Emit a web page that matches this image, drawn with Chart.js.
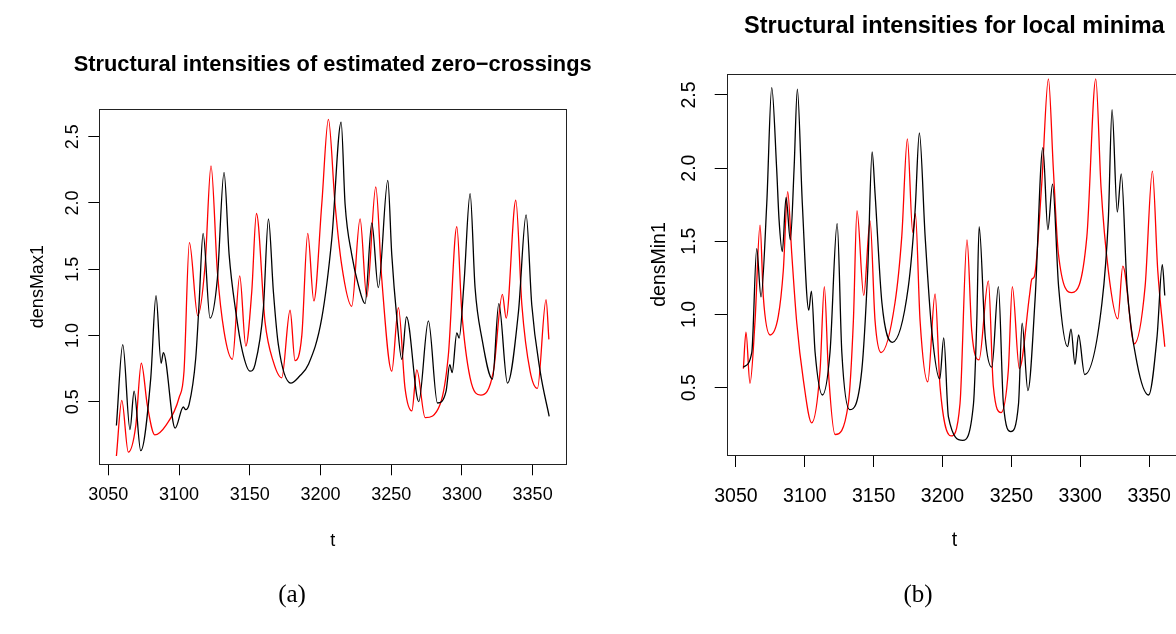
<!DOCTYPE html>
<html>
<head>
<meta charset="utf-8">
<script src="https://cdn.jsdelivr.net/npm/chart.js@4.4.0/dist/chart.umd.min.js"></script>
<style>
  html, body { margin: 0; padding: 0; background: #fff; overflow: hidden; width: 1176px; height: 634px; }
  canvas { position: absolute; top: 0; }
  #chartMax { left: 0; }
  #chartMin { left: 600px; }
  .caption { position: absolute; top: 579px; width: 80px; line-height: 30px; text-align: center;
             font-family: "Liberation Serif", serif; font-size: 25px; color: #000; }
</style>
</head>
<body>
<canvas id="chartMax" width="600" height="634"></canvas>
<canvas id="chartMin" width="600" height="634"></canvas>
<div class="caption" style="left:252px">(a)</div>
<div class="caption" style="left:878px">(b)</div>
<script>
document.addEventListener('DOMContentLoaded', function() {

const xTicks = [3050, 3100, 3150, 3200, 3250, 3300, 3350];
const yTicks = [0.5, 1.0, 1.5, 2.0, 2.5];

// densMax1, black curve
const tMaxBlack = [3055.7, 3060.2, 3065.3, 3068.2, 3072.9, 3080.0, 3083.7, 3087.3, 3088.9, 3097.2,
  3103.0, 3104.7, 3107.1, 3111.8, 3114.1, 3117.0, 3121.9, 3127.1, 3131.8, 3135.4,
  3140.1, 3144.8, 3150.2, 3153.7, 3159.6, 3163.2, 3166.7, 3170.2, 3179.0, 3185.0,
  3191.4, 3200.9, 3208.0, 3214.6, 3217.4, 3222.1, 3226.8, 3231.5, 3236.3, 3240.9,
  3247.6, 3250.4, 3254.0, 3257.5, 3260.8, 3269.5, 3276.3, 3282.7, 3288.8, 3291.4,
  3293.1, 3296.4, 3298.0, 3301.5, 3305.8, 3309.3, 3314.1, 3321.6, 3326.1, 3332.2,
  3340.0, 3345.4, 3349.4, 3355.3, 3361.7];
const densMaxBlack = [0.32, 0.93, 0.29, 0.58, 0.13, 0.68, 1.30, 0.79, 0.87, 0.30,
  0.46, 0.44, 0.48, 0.83, 1.23, 1.77, 1.13, 1.43, 2.23, 1.61,
  1.18, 0.88, 0.73, 0.78, 1.20, 1.88, 1.33, 0.93, 0.64, 0.69,
  0.78, 1.13, 1.73, 2.61, 1.99, 1.61, 1.38, 1.24, 1.85, 1.36,
  2.17, 1.61, 1.13, 0.82, 1.14, 0.50, 1.11, 0.49, 0.58, 0.78,
  0.72, 1.02, 0.98, 1.40, 2.07, 1.36, 0.98, 0.67, 1.24, 0.64,
  1.18, 1.91, 1.23, 0.73, 0.39];

// densMax1, red curve
const tMaxRed = [3055.7, 3059.5, 3064.1, 3069.4, 3073.3, 3077.6, 3082.8, 3090.6, 3100.0, 3103.5,
  3107.3, 3113.2, 3118.4, 3122.6, 3127.1, 3131.8, 3137.7, 3142.9, 3147.2, 3151.4,
  3154.7, 3160.8, 3166.7, 3172.6, 3178.5, 3182.0, 3186.8, 3191.0, 3195.3, 3200.9,
  3205.6, 3210.3, 3215.0, 3222.1, 3228.0, 3232.7, 3239.1, 3243.3, 3250.4, 3255.1,
  3259.8, 3264.6, 3268.1, 3274.0, 3284.6, 3290.4, 3296.4, 3299.9, 3305.8, 3313.4,
  3322.3, 3328.6, 3331.3, 3338.1, 3342.4, 3348.2, 3353.4, 3359.5, 3361.5];
const densMaxRed = [0.09, 0.51, 0.12, 0.32, 0.79, 0.47, 0.25, 0.32, 0.53, 0.73,
  1.70, 1.15, 1.53, 2.28, 1.48, 1.03, 0.82, 1.45, 0.92, 1.33,
  1.92, 1.10, 0.80, 0.68, 1.19, 0.81, 1.00, 1.77, 1.26, 1.99,
  2.63, 1.99, 1.53, 1.22, 1.88, 1.29, 2.12, 1.43, 0.73, 1.21,
  0.60, 0.43, 0.74, 0.38, 0.48, 0.85, 1.82, 1.18, 0.68, 0.55,
  0.73, 1.31, 1.13, 2.02, 1.23, 0.73, 0.60, 1.27, 0.97];

// densMin1, black curve
const tMinBlack = [3055.4, 3061.5, 3065.1, 3068.2, 3072.4, 3076.0, 3079.6, 3081.3, 3083.7, 3086.4,
  3089.5, 3092.2, 3094.6, 3098.2, 3102.9, 3104.8, 3107.5, 3112.8, 3118.3, 3123.5,
  3126.9, 3132.5, 3141.4, 3145.7, 3148.9, 3151.0, 3156.0, 3163.6, 3175.2, 3180.1,
  3183.2, 3187.4, 3192.2, 3198.0, 3200.9, 3204.3, 3214.7, 3222.5, 3224.9, 3226.6,
  3231.0, 3235.8, 3240.6, 3244.2, 3249.6, 3255.2, 3257.8, 3262.0, 3267.2, 3272.9,
  3276.5, 3279.9, 3284.3, 3290.8, 3293.3, 3296.2, 3298.8, 3303.2, 3315.8, 3320.4,
  3323.1, 3326.9, 3329.8, 3334.0, 3341.2, 3349.7, 3355.8, 3359.6, 3361.4];
const densMinBlack = [0.64, 0.74, 1.45, 1.12, 1.76, 2.55, 1.99, 1.65, 1.43, 1.80,
  1.51, 1.99, 2.54, 1.76, 1.03, 1.16, 0.74, 0.45, 0.74, 1.62,
  0.74, 0.35, 0.62, 1.30, 2.11, 1.83, 1.08, 0.81, 1.19, 1.71,
  2.24, 1.53, 0.89, 0.56, 0.84, 0.30, 0.14, 0.39, 0.96, 1.60,
  0.85, 0.64, 1.19, 0.39, 0.20, 0.39, 0.94, 0.48, 1.10, 2.14,
  1.58, 1.89, 1.19, 0.78, 0.90, 0.66, 0.86, 0.59, 1.08, 1.65,
  2.40, 1.70, 1.96, 1.19, 0.67, 0.45, 0.85, 1.34, 1.13];

// densMin1, red curve
const tMinRed = [3055.4, 3057.3, 3060.2, 3063.9, 3067.5, 3069.9, 3074.8, 3080.8, 3084.4, 3087.6,
  3090.5, 3094.2, 3099.0, 3105.0, 3111.1, 3114.2, 3117.1, 3122.0, 3131.6, 3135.3,
  3137.9, 3142.8, 3147.4, 3151.0, 3155.4, 3165.5, 3170.4, 3174.5, 3178.4, 3180.3,
  3183.7, 3189.3, 3194.6, 3198.2, 3206.2, 3212.7, 3217.8, 3221.2, 3226.5, 3233.3,
  3236.9, 3242.5, 3247.8, 3250.7, 3255.8, 3263.3, 3264.8, 3266.7, 3272.1, 3276.9,
  3280.5, 3284.1, 3293.9, 3304.8, 3311.3, 3315.1, 3320.4, 3327.3, 3330.9, 3339.3,
  3347.1, 3352.4, 3356.3, 3361.4];
const densMinRed = [0.63, 0.88, 0.53, 0.96, 1.61, 1.12, 0.86, 0.99, 1.30, 1.84,
  1.42, 0.94, 0.55, 0.26, 0.62, 1.19, 0.62, 0.18, 0.39, 0.96,
  1.71, 1.13, 1.64, 0.96, 0.74, 1.08, 1.53, 2.20, 1.56, 1.69,
  0.96, 0.54, 1.14, 0.51, 0.17, 0.39, 1.51, 0.89, 0.69, 1.23,
  0.51, 0.33, 0.62, 1.19, 0.63, 1.14, 1.24, 1.26, 1.90, 2.61,
  1.99, 1.42, 1.15, 1.53, 2.61, 1.87, 1.30, 0.97, 1.33, 0.80,
  1.19, 1.98, 1.30, 0.78];

function points(ts, vs) {
  return ts.map((t, i) => ({ x: t, y: vs[i] }));
}

// frame around the plotting region, like R's box()
const boxPlugin = {
  id: 'box',
  afterDraw(chart, args, opts) {
    const a = chart.chartArea;
    const ctx = chart.ctx;
    ctx.save();
    ctx.strokeStyle = opts.color || '#000';
    ctx.lineWidth = 1;
    ctx.strokeRect(Math.round(a.left) + 0.5, Math.round(a.top) + 0.5,
                   Math.round(a.right - a.left), Math.round(a.bottom - a.top));
    ctx.restore();
  }
};

// keep the title centred on the plot but let it run wider than the plot so it is not squeezed
const wideTitle = {
  id: 'wideTitle',
  afterLayout(chart) {
    const t = chart.titleBlock;
    if (!t) return;
    const mid = (t.left + t.right) / 2;
    t.left = mid - 290;
    t.right = mid + 290;
  }
};

function makePlot(id, p) {
  const labelFont = { family: 'Liberation Sans', size: p.fontSize };
  return new Chart(document.getElementById(id), {
    type: 'line',
    data: {
      datasets: [
        { data: points(p.tBlack, p.vBlack), borderColor: '#000000' },
        { data: points(p.tRed, p.vRed), borderColor: '#ff0000' }
      ]
    },
    options: {
      responsive: false,
      animation: false,
      devicePixelRatio: 1,
      layout: { padding: { left: 0, right: p.padRight, top: 0, bottom: 0 } },
      elements: {
        point: { radius: 0 },
        line: { borderWidth: 1.3, cubicInterpolationMode: 'monotone', fill: false }
      },
      plugins: {
        legend: { display: false },
        tooltip: { enabled: false },
        title: {
          display: true, fullSize: false, text: p.title, color: '#000',
          font: { family: 'Liberation Sans', size: p.titleSize, weight: 'bold' },
          padding: { top: p.titleTop, bottom: p.titleBottom }
        },
        box: { color: '#222' }
      },
      scales: {
        x: {
          type: 'linear', min: p.xMin, max: p.xMax,
          afterBuildTicks: s => { s.ticks = xTicks.map(v => ({ value: v })); },
          afterFit: s => { s.height = p.xHeight; },
          border: { display: false },
          grid: { drawOnChartArea: false, drawTicks: true, tickLength: p.tickLen, color: '#000' },
          ticks: { autoSkip: false, maxRotation: 0, padding: p.xTickPad, color: '#000', font: labelFont,
                   callback: v => String(v) },
          title: { display: true, text: 't', color: '#000', font: labelFont,
                   padding: { top: 0, bottom: p.xTitleBottom } }
        },
        y: {
          type: 'linear', min: p.yMin, max: p.yMax,
          afterBuildTicks: s => { s.ticks = yTicks.map(v => ({ value: v })); },
          afterFit: s => { s.width = p.yWidth; },
          border: { display: false },
          grid: { drawOnChartArea: false, drawTicks: true, tickLength: p.tickLen, color: '#000' },
          ticks: { minRotation: 90, maxRotation: 90, crossAlign: 'center', padding: p.yTickPad,
                   color: '#000', font: labelFont, callback: v => v.toFixed(1) },
          title: { display: true, text: p.yLabel, color: '#000', font: labelFont,
                   padding: { top: p.yTitleTop, bottom: 0 } }
        }
      }
    },
    plugins: [boxPlugin, wideTitle]
  });
}

makePlot('chartMax', {
  title: 'Structural intensities of estimated zero\u2212crossings', yLabel: 'densMax1',
  tBlack: tMaxBlack, vBlack: densMaxBlack, tRed: tMaxRed, vRed: densMaxRed,
  xMin: 3043.6, xMax: 3373.6, yMin: 0.0275, yMax: 2.709,
  fontSize: 18, titleSize: 21.8, titleTop: 51.9, titleBottom: 30.9,
  padRight: 34, xHeight: 169.7, yWidth: 99.3, tickLen: 11,
  xTickPad: 8.9, xTitleBottom: 82.2, yTickPad: 2.8, yTitleTop: 27.2
});

makePlot('chartMin', {
  title: 'Structural intensities for local minima', yLabel: 'densMin1',
  tBlack: tMinBlack, vBlack: densMinBlack, tRed: tMinRed, vRed: densMinRed,
  xMin: 3043.3, xMax: 3373.9, yMin: 0.04, yMax: 2.643,
  fontSize: 19.5, titleSize: 23.5, titleTop: 12.9, titleBottom: 32.9,
  padRight: 18, xHeight: 179, yWidth: 126.7, tickLen: 12,
  xTickPad: 18.3, xTitleBottom: 81.3, yTickPad: 11.1, yTitleTop: 48.3
});

});
</script>
</body>
</html>
